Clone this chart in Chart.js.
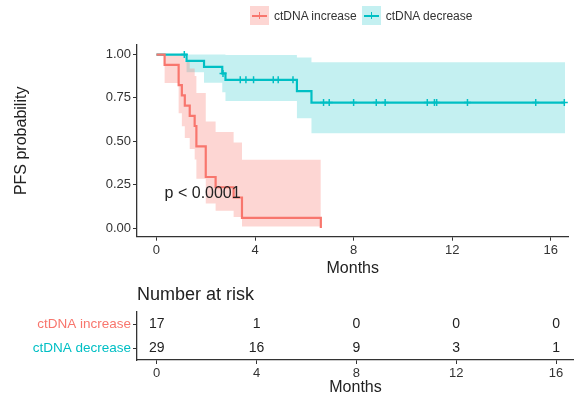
<!DOCTYPE html>
<html>
<head>
<meta charset="utf-8">
<script src="https://cdn.jsdelivr.net/npm/chart.js@4.4.1/dist/chart.umd.min.js"></script>
<style>
  html, body { margin: 0; padding: 0; background: #fff; }
  #wrap { position: relative; width: 574px; height: 402px; overflow: hidden; font-family: 'Liberation Sans', Arial, sans-serif; }
  #km { position: absolute; left: 0; top: 0; }
  #risk { position: absolute; left: 0; top: 280px; }
  #legend { position: absolute; top: 6px; left: 250px; display: flex; align-items: center; font-size: 12px; color: #333; }
  .item { display: flex; align-items: center; margin-right: 5px; }
  .swatch { position: relative; width: 19px; height: 19px; margin-right: 5px; }
  .swatch .h { position: absolute; left: 2px; right: 2px; top: 8.5px; height: 2px; }
  .swatch .v { position: absolute; left: 8.8px; width: 1.5px; top: 6px; height: 7px; }
</style>
</head>
<body>
<div id="wrap">
  <canvas id="km" width="574" height="280"></canvas>
  <canvas id="risk" width="574" height="122"></canvas>
  <div id="legend"></div>
</div>
<script>
const groups = ['ctDNA increase', 'ctDNA decrease'];

// ctDNA increase: KM steps and 95% band
const incTime  = [0, 0.33, 0.9, 1.03, 1.15, 1.35, 1.55, 1.62, 2.0, 2.4, 3.13, 3.47, 6.67];
const incSurv  = [1, 0.941, 0.824, 0.765, 0.706, 0.647, 0.588, 0.471, 0.294, 0.235, 0.176, 0.059, 0];
const incUpper = [1, 1, 1, 0.996, 0.959, 0.919, 0.876, 0.779, 0.614, 0.554, 0.493, 0.394, 0.394];
const incLower = [1, 0.836, 0.661, 0.587, 0.519, 0.455, 0.395, 0.284, 0.141, 0.100, 0.063, 0.009, 0.009];

// ctDNA decrease
const decTime  = [0, 1.22, 1.93, 2.67, 2.8, 5.7, 6.29, 16.58];
const decSurv  = [1, 0.964, 0.929, 0.891, 0.854, 0.789, 0.723, 0.723];
const decUpper = [1, 1, 1, 1, 0.997, 0.983, 0.955, 0.955];
const decLower = [1, 0.898, 0.838, 0.783, 0.732, 0.633, 0.547, 0.547];
const decCensor = [1.13, 2.7, 3.40, 3.63, 3.94, 4.74, 4.94, 5.54, 6.78, 7.01, 8.0, 8.92, 9.28, 10.99, 11.28, 11.37, 12.62, 15.39, 16.55];

const xTicks = [0, 4, 8, 12, 16];
const yTicks = [0, 0.25, 0.5, 0.75, 1];

// number at risk table
const riskTimes = [0, 4, 8, 12, 16];
const riskInc = [17, 1, 0, 0, 0];
const riskDec = [29, 16, 9, 3, 1];

const pText = 'p < 0.0001';

const FONT = "'Liberation Sans', Arial, sans-serif";
const PINK = '#F8766D';
const TEAL = '#00BFC4';
const PINK_BAND = 'rgba(248,118,109,0.3)';
const TEAL_BAND = 'rgba(0,191,196,0.23)';
const AXIS = '#333';

function pts(xs, ys) {
    return xs.map((x, i) => ({ x: x, y: ys[i] }));
}

// level of the step curve at time t
function survAt(times, surv, t) {
    let s = surv[0];
    for (let i = 0; i < times.length; i++) {
        if (times[i] <= t) s = surv[i];
    }
    return s;
}

// legend
const legend = document.getElementById('legend');
[[groups[0], PINK, PINK_BAND], [groups[1], TEAL, TEAL_BAND]].forEach(([label, line, band]) => {
    const item = document.createElement('div');
    item.className = 'item';
    item.innerHTML = `<div class="swatch" style="background:${band}"><div class="h" style="background:${line}"></div><div class="v" style="background:${line}"></div></div><span>${label}</span>`;
    legend.appendChild(item);
});

function bandSet(xs, ys, color, fill) {
    return {
        data: pts(xs, ys),
        stepped: true,
        borderWidth: 0,
        borderColor: 'transparent',
        backgroundColor: color,
        pointRadius: 0,
        fill: fill,
        order: 3
    };
}

const pValuePlugin = {
    id: 'pvalue',
    afterDatasetsDraw(chart) {
        const { ctx, scales: { x, y } } = chart;
        ctx.save();
        ctx.font = `16px ${FONT}`;
        ctx.fillStyle = '#222';
        ctx.textBaseline = 'middle';
        ctx.textAlign = 'left';
        ctx.fillText(pText, x.getPixelForValue(0.33), y.getPixelForValue(0.2));
        ctx.restore();
    }
};

new Chart(document.getElementById('km'), {
    type: 'line',
    data: {
        datasets: [
            bandSet(incTime, incUpper, PINK_BAND, '+1'),
            bandSet(incTime, incLower, PINK_BAND, false),
            bandSet(decTime, decUpper, TEAL_BAND, '+1'),
            bandSet(decTime, decLower, TEAL_BAND, false),
            {
                label: groups[0],
                data: pts(incTime, incSurv),
                stepped: true,
                borderColor: PINK,
                borderWidth: 2.2,
                pointRadius: 0,
                fill: false,
                order: 1
            },
            {
                label: groups[1],
                data: pts(decTime, decSurv),
                stepped: true,
                borderColor: TEAL,
                borderWidth: 2.2,
                pointRadius: 0,
                fill: false,
                order: 1
            },
            {
                data: decCensor.map(t => ({ x: t, y: survAt(decTime, decSurv, t) })),
                showLine: false,
                pointStyle: 'cross',
                pointRadius: 3.5,
                pointBorderColor: TEAL,
                pointBorderWidth: 1.5,
                order: 0
            }
        ]
    },
    options: {
        responsive: false,
        animation: false,
        layout: { padding: { top: 45, left: 0, right: 0, bottom: 0 } },
        plugins: {
            legend: { display: false },
            tooltip: { enabled: false }
        },
        scales: {
            x: {
                type: 'linear',
                min: -0.79,
                max: 16.72,
                afterBuildTicks: (axis) => { axis.ticks = xTicks.map(v => ({ value: v })); },
                afterFit: (scale) => { scale.height = 43.3; },
                ticks: { font: { family: FONT, size: 13 }, color: AXIS, padding: 2, maxRotation: 0, autoSkip: false },
                grid: { drawOnChartArea: false, tickLength: 4, tickColor: AXIS },
                border: { color: AXIS, width: 1.3 },
                title: {
                    display: true,
                    text: 'Months',
                    font: { family: FONT, size: 16 },
                    color: '#222',
                    padding: { top: 0, bottom: 1.6 }
                }
            },
            y: {
                type: 'linear',
                min: -0.05,
                max: 1.055,
                afterBuildTicks: (axis) => { axis.ticks = yTicks.map(v => ({ value: v })); },
                afterFit: (scale) => { scale.width = 137; },
                ticks: {
                    font: { family: FONT, size: 13 },
                    color: AXIS,
                    padding: 2,
                    callback: (v) => Number(v).toFixed(2)
                },
                grid: { drawOnChartArea: false, tickLength: 4, tickColor: AXIS },
                border: { color: AXIS, width: 1.3 },
                title: {
                    display: true,
                    text: 'PFS probability',
                    font: { family: FONT, size: 16 },
                    color: '#222',
                    padding: { top: 11.5, bottom: 0 }
                }
            }
        }
    },
    plugins: [pValuePlugin]
});

// number at risk table
const riskPlugin = {
    id: 'riskTable',
    afterDatasetsDraw(chart) {
        const { ctx, chartArea, scales: { x, y } } = chart;
        ctx.save();
        ctx.font = `14px ${FONT}`;
        ctx.fillStyle = '#222';
        ctx.textAlign = 'center';
        ctx.textBaseline = 'middle';
        [riskInc, riskDec].forEach((row, i) => {
            row.forEach((n, j) => {
                ctx.fillText(String(n), x.getPixelForValue(riskTimes[j]), y.getPixelForValue(i));
            });
        });
        ctx.font = `18px ${FONT}`;
        ctx.textAlign = 'left';
        ctx.fillText('Number at risk', chartArea.left, 15);
        ctx.restore();
    }
};

new Chart(document.getElementById('risk'), {
    type: 'scatter',
    data: { datasets: [] },
    options: {
        responsive: false,
        animation: false,
        layout: { padding: { top: 32, left: 0, right: 0, bottom: 0 } },
        plugins: {
            legend: { display: false },
            tooltip: { enabled: false }
        },
        scales: {
            x: {
                type: 'linear',
                min: -0.79,
                max: 16.72,
                afterBuildTicks: (axis) => { axis.ticks = xTicks.map(v => ({ value: v })); },
                afterFit: (scale) => { scale.height = 42; },
                ticks: { font: { family: FONT, size: 13 }, color: AXIS, padding: 2, maxRotation: 0, autoSkip: false },
                grid: { drawOnChartArea: false, tickLength: 4, tickColor: AXIS },
                border: { color: AXIS, width: 1.3 },
                title: {
                    display: true,
                    text: 'Months',
                    font: { family: FONT, size: 16 },
                    color: '#222',
                    padding: { top: 0, bottom: 4.4 }
                }
            },
            y: {
                type: 'category',
                labels: groups,
                offset: true,
                afterFit: (scale) => { scale.width = 137; },
                ticks: {
                    font: { family: FONT, size: 13.5 },
                    color: (ctx) => [PINK, TEAL][ctx.index],
                    padding: 2
                },
                grid: { drawOnChartArea: false, offset: false, tickLength: 4, tickColor: AXIS },
                border: { color: AXIS, width: 1.3 }
            }
        }
    },
    plugins: [riskPlugin]
});
</script>
</body>
</html>
